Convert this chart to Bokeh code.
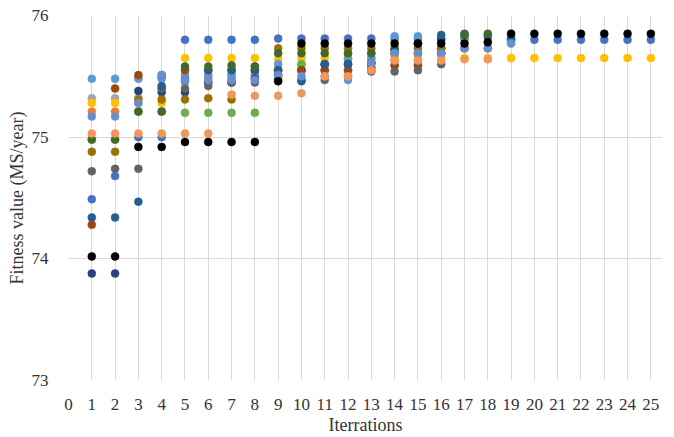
from bokeh.plotting import figure
from bokeh.models import FixedTicker, ColumnDataSource
from bokeh.embed import file_html
from bokeh.resources import INLINE

iterations = list(range(1, 26))
N = None

blue = [74.49, 74.68, 75.00, 75.00, 75.80, 75.80, 75.80, 75.80, 75.81, 75.81, 75.81, 75.81, 75.81, 75.81, 75.81, 75.81, 75.81, 75.82, 75.80, 75.80, 75.80, 75.80, 75.80, 75.80, 75.80]
orange = [75.21, 75.21, 75.49, 75.49, 75.49, 75.49, 75.49, 75.49, 75.55, 75.55, 75.55, 75.60, 75.61, 75.63, 75.63, 75.69, N, N, N, N, N, N, N, N, N]
gray = [75.32, 75.32, 75.32, 75.40, 75.45, 75.45, 75.51, 75.51, 75.55, 75.55, 75.55, 75.55, 75.57, 75.59, 75.59, 75.73, 75.73, N, N, N, N, N, N, N, N]
yellow = [75.28, 75.28, 75.28, 75.28, 75.65, 75.65, 75.65, 75.65, 75.64, 75.65, 75.65, 75.65, 75.65, 75.65, 75.65, 75.65, 75.65, 75.65, 75.65, 75.65, 75.65, 75.65, 75.65, 75.65, 75.65]
light_blue = [75.48, 75.48, 75.48, 75.48, 75.51, 75.51, 75.51, 75.51, 75.60, 75.60, 75.60, 75.64, 75.65, 75.83, 75.83, N, N, N, N, N, N, N, N, N, N]
green = [74.98, 74.98, 75.21, 75.21, 75.20, 75.20, 75.20, 75.20, 75.50, 75.60, 75.60, 75.68, 75.69, 75.69, 75.69, 75.69, 75.82, N, N, N, N, N, N, N, N]
navy = [73.88, 73.88, 75.38, 75.37, 75.37, 75.45, 75.45, 75.48, 75.51, 75.55, 75.60, 75.60, 75.61, 75.72, 75.77, 75.80, N, N, N, N, N, N, N, N, N]
brown = [74.28, 75.40, 75.51, 75.51, 75.55, 75.55, 75.55, 75.55, 75.55, 75.55, 75.55, 75.55, 75.57, 75.59, 75.59, 75.73, N, N, N, N, N, N, N, N, N]
dark_gray = [74.72, 74.74, 74.74, 75.40, 75.40, 75.42, 75.45, 75.45, 75.47, 75.47, 75.47, 75.50, 75.54, 75.54, 75.55, 75.60, N, N, N, N, N, N, N, N, N]
dark_yellow = [74.88, 74.88, 75.31, 75.31, 75.31, 75.32, 75.31, 75.58, 75.73, 75.73, 75.73, 75.73, 75.73, 75.73, 75.73, 75.73, 75.73, 75.73, N, N, N, N, N, N, N]
dark_blue = [74.34, 74.34, 74.47, 75.42, 75.47, 75.55, 75.55, 75.55, 75.55, 75.46, 75.60, 75.60, 75.61, 75.72, 75.77, 75.84, 75.84, 75.84, 75.81, N, N, N, N, N, N]
dark_green = [74.98, 74.98, 75.21, 75.21, 75.58, 75.58, 75.59, 75.58, 75.69, 75.69, 75.69, 75.69, 75.69, 75.69, 75.69, 75.69, 75.85, 75.85, N, N, N, N, N, N, N]
steel_blue = [75.17, 75.17, 75.28, 75.51, 75.47, 75.47, 75.47, 75.47, 75.51, 75.50, 75.50, 75.47, 75.61, 75.69, 75.69, 75.69, 75.73, 75.73, 75.77, N, N, N, N, N, N]
salmon = [75.03, 75.03, 75.03, 75.03, 75.03, 75.03, 75.35, 75.34, 75.34, 75.36, 75.50, 75.50, 75.55, 75.63, 75.63, 75.63, 75.64, 75.64, N, N, N, N, N, N, N]
black = [74.02, 74.02, 74.92, 74.92, 74.96, 74.96, 74.96, 74.96, 75.46, 75.77, 75.77, 75.77, 75.77, 75.77, 75.77, 75.77, 75.77, 75.78, 75.85, 75.85, 75.85, 75.85, 75.85, 75.85, 75.85]

x_ticks = list(range(0, 26))
y_ticks = [73, 74, 75, 76]

series = [
    (blue, "#4472C4"),
    (orange, "#ED7D31"),
    (gray, "#A5A5A5"),
    (yellow, "#FFC000"),
    (light_blue, "#5B9BD5"),
    (green, "#70AD47"),
    (navy, "#264478"),
    (brown, "#9E480E"),
    (dark_gray, "#636363"),
    (dark_yellow, "#997300"),
    (dark_blue, "#255E91"),
    (dark_green, "#43682B"),
    (steel_blue, "#698ED0"),
    (salmon, "#F1975A"),
    (black, "#000000"),
]

p = figure(width=674, height=437, x_range=(0, 25.5), y_range=(73, 76),
           output_backend="svg", toolbar_location=None,
           min_border_left=68, min_border_right=12, min_border_top=15, min_border_bottom=54)
p.outline_line_color = None
p.background_fill_color = "white"
p.border_fill_color = "white"

for vals, col in series:
    xs = [x for x, v in zip(iterations, vals) if v is not None]
    ys = [v for v in vals if v is not None]
    src = ColumnDataSource(dict(x=xs, y=ys))
    p.scatter("x", "y", source=src, size=8, fill_color=col, line_color=col, line_width=0.5)

font = "Liberation Serif"
p.xaxis.ticker = FixedTicker(ticks=x_ticks)
p.yaxis.ticker = FixedTicker(ticks=y_ticks)
for ax in (p.xaxis[0], p.yaxis[0]):
    ax.axis_line_color = None
    ax.major_tick_line_color = None
    ax.minor_tick_line_color = None
    ax.major_label_text_font = font
    ax.major_label_text_font_size = "17px"
    ax.major_label_text_color = "#333333"
    ax.axis_label_text_font = font
    ax.axis_label_text_font_size = "18px"
    ax.axis_label_text_font_style = "normal"
    ax.axis_label_text_color = "#333333"
p.xaxis.axis_label = "Iterrations"
p.yaxis.axis_label = "Fitness value (MS/year)"
p.xaxis.major_label_standoff = 12
p.yaxis.major_label_standoff = 14
p.xaxis.axis_label_standoff = 2
p.yaxis.axis_label_standoff = 2

p.xgrid.ticker = FixedTicker(ticks=x_ticks)
p.ygrid.ticker = FixedTicker(ticks=y_ticks)
p.xgrid.grid_line_color = "#D9D9D9"
p.ygrid.grid_line_color = "#D9D9D9"
p.xgrid.grid_line_width = 1
p.ygrid.grid_line_width = 1

open("out.html", "w").write(file_html(p, INLINE))
